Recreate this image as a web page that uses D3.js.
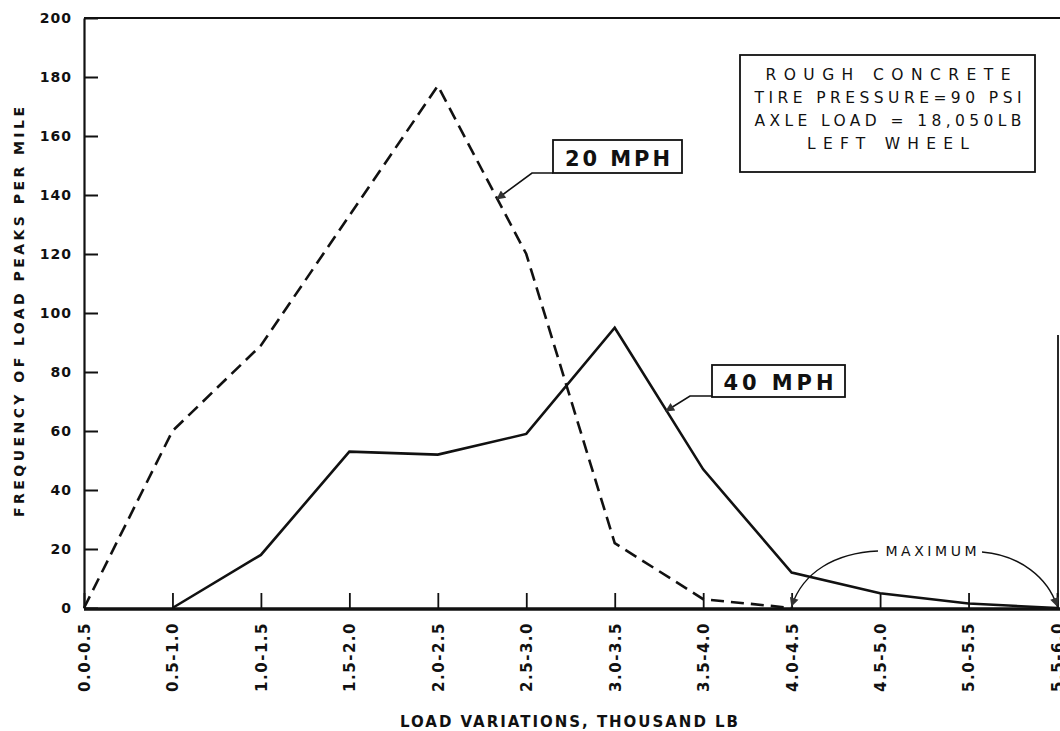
<!DOCTYPE html>
<html lang="en">
<head>
  <meta charset="UTF-8">
  <title>Frequency of Load Peaks per Mile</title>
  <script src="https://d3js.org/d3.v7.min.js"></script>
  <style>
    body { margin: 0; background: #fff; }
    svg { display: block; font-family: "DejaVu Sans", sans-serif; }
    .axis text { fill: #111; font-weight: bold; font-family: "DejaVu Sans", sans-serif; }
    .axis line, .axis path { stroke: #111; }
    .series { fill: none; stroke: #111; stroke-width: 2.6px; stroke-linejoin: miter; }
    .note { fill: #111; }
    .frame { fill: none; stroke: #111; stroke-width: 1.8px; }
  </style>
</head>
<body>
  <svg id="chart" width="1060" height="731"></svg>

  <script>
    // Load classes, thousand lb
    const categories = ["0.0-0.5", "0.5-1.0", "1.0-1.5", "1.5-2.0", "2.0-2.5", "2.5-3.0",
                        "3.0-3.5", "3.5-4.0", "4.0-4.5", "4.5-5.0", "5.0-5.5", "5.5-6.0"];
    // Frequency of load peaks per mile
    const mph20 = [0, 60, 89, 133, 177, 120, 22, 3, 0, null, null, null];
    const mph40 = [null, 0, 18, 53, 52, 59, 95, 47, 12, 5, 1.5, 0];
    const yTicks = [0, 20, 40, 60, 80, 100, 120, 140, 160, 180, 200];
    const noteLines = ["ROUGH  CONCRETE", "TIRE PRESSURE=90 PSI", "AXLE  LOAD = 18,050LB", "LEFT  WHEEL"];

    const svg = d3.select("#chart");

    const x = d3.scalePoint().domain(categories).range([84, 1057]);
    const y = d3.scaleLinear().domain([0, 200]).range([608, 18]);

    // arrow marker
    svg.append("defs").append("marker")
        .attr("id", "arrow")
        .attr("viewBox", "0 0 10 10")
        .attr("refX", 9).attr("refY", 5)
        .attr("markerWidth", 15).attr("markerHeight", 9)
        .attr("markerUnits", "userSpaceOnUse")
        .attr("orient", "auto")
      .append("path")
        .attr("d", "M0,0 L10,5 L0,10 Z")
        .attr("fill", "#333");

    // top border and the bit of right border
    svg.append("line").attr("class", "frame")
        .attr("x1", 84).attr("x2", 1060).attr("y1", y(200)).attr("y2", y(200));
    svg.append("line").attr("class", "frame")
        .attr("x1", 1058).attr("x2", 1058).attr("y1", 335).attr("y2", y(0));

    // y axis
    const yAxis = svg.append("g").attr("class", "axis")
        .attr("transform", "translate(84,0)")
        .call(d3.axisLeft(y).tickValues(yTicks).tickSizeInner(-14).tickSizeOuter(0).tickPadding(12));
    yAxis.attr("font-family", null);
    yAxis.select(".domain").attr("stroke-width", 2.2);
    yAxis.selectAll(".tick line").attr("stroke-width", 2);
    yAxis.selectAll(".tick text")
        .style("font-size", "14px")
        .style("letter-spacing", "1px");

    // x axis
    const xAxis = svg.append("g").attr("class", "axis")
        .attr("transform", `translate(0,${y(0)})`)
        .call(d3.axisBottom(x).tickSizeInner(-15).tickSizeOuter(0).tickPadding(0));
    xAxis.attr("font-family", null);
    xAxis.select(".domain").attr("stroke-width", 3.5).attr("stroke", "#333")
        .attr("d", "M84,1H1060");
    xAxis.selectAll(".tick line").attr("stroke-width", 1.8);
    xAxis.selectAll(".tick text")
        .style("font-size", "15px")
        .style("letter-spacing", "1.5px")
        .attr("text-anchor", "end")
        .attr("transform", "rotate(-90)")
        .attr("x", -14).attr("y", 0).attr("dy", "0.36em");

    // axis titles
    svg.append("text").attr("class", "note")
        .attr("transform", "translate(24,312) rotate(-90)")
        .attr("text-anchor", "middle")
        .attr("textLength", 410).attr("lengthAdjust", "spacing")
        .style("font-size", "14px").style("font-weight", "bold")
        .text("FREQUENCY  OF  LOAD  PEAKS  PER  MILE");

    svg.append("text").attr("class", "note")
        .attr("x", 569).attr("y", 727)
        .attr("text-anchor", "middle")
        .attr("textLength", 338).attr("lengthAdjust", "spacing")
        .style("font-size", "15px").style("font-weight", "bold")
        .text("LOAD  VARIATIONS,  THOUSAND  LB");

    // series
    const line = d3.line()
        .defined(d => d != null)
        .x((d, i) => x(categories[i]))
        .y(d => y(d));

    svg.append("path").attr("class", "series")
        .attr("d", line(mph20))
        .attr("stroke-dasharray", "13,7");

    svg.append("path").attr("class", "series")
        .attr("d", line(mph40));

    // condition box
    svg.append("rect").attr("class", "frame")
        .attr("x", 740).attr("y", 55).attr("width", 295).attr("height", 117)
        .attr("stroke-width", 2);
    const lineWidths = [245, 267, 267, 162];
    noteLines.forEach((t, i) => {
      svg.append("text").attr("class", "note")
          .attr("x", 888).attr("y", 80 + i * 23)
          .attr("text-anchor", "middle")
          .attr("textLength", lineWidths[i]).attr("lengthAdjust", "spacing")
          .style("font-size", "15.5px")
          .text(t);
    });

    // series labels with leaders
    function tag(label, bx, by, bw, bh, tw, leader) {
      svg.append("rect").attr("class", "frame")
          .attr("x", bx).attr("y", by).attr("width", bw).attr("height", bh)
          .attr("stroke-width", 2);
      svg.append("text").attr("class", "note")
          .attr("x", bx + bw / 2).attr("y", by + bh - 7)
          .attr("text-anchor", "middle")
          .attr("textLength", tw).attr("lengthAdjust", "spacing")
          .style("font-size", "21px").style("font-weight", "bold")
          .text(label);
      svg.append("path")
          .attr("d", d3.line()(leader))
          .attr("fill", "none").attr("stroke", "#111").attr("stroke-width", 1.6)
          .attr("marker-end", "url(#arrow)");
    }
    tag("20 MPH", 553, 140, 129, 33, 105, [[553, 173], [532, 173], [497, 199]]);
    tag("40 MPH", 712, 365, 133, 32, 110, [[712, 396], [690, 396], [666, 411]]);

    // MAXIMUM callout
    svg.append("text").attr("class", "note")
        .attr("x", 931).attr("y", 556)
        .attr("text-anchor", "middle")
        .attr("textLength", 91).attr("lengthAdjust", "spacing")
        .style("font-size", "14px")
        .text("MAXIMUM");
    svg.append("path")
        .attr("d", `M878,551 C835,553 803,572 ${x("4.0-4.5")},${y(0) - 2}`)
        .attr("fill", "none").attr("stroke", "#111").attr("stroke-width", 1.4)
        .attr("marker-end", "url(#arrow)");
    svg.append("path")
        .attr("d", `M982,552 C1020,555 1048,578 ${x("5.5-6.0")},${y(0) - 2}`)
        .attr("fill", "none").attr("stroke", "#111").attr("stroke-width", 1.4)
        .attr("marker-end", "url(#arrow)");
  </script>
</body>
</html>
